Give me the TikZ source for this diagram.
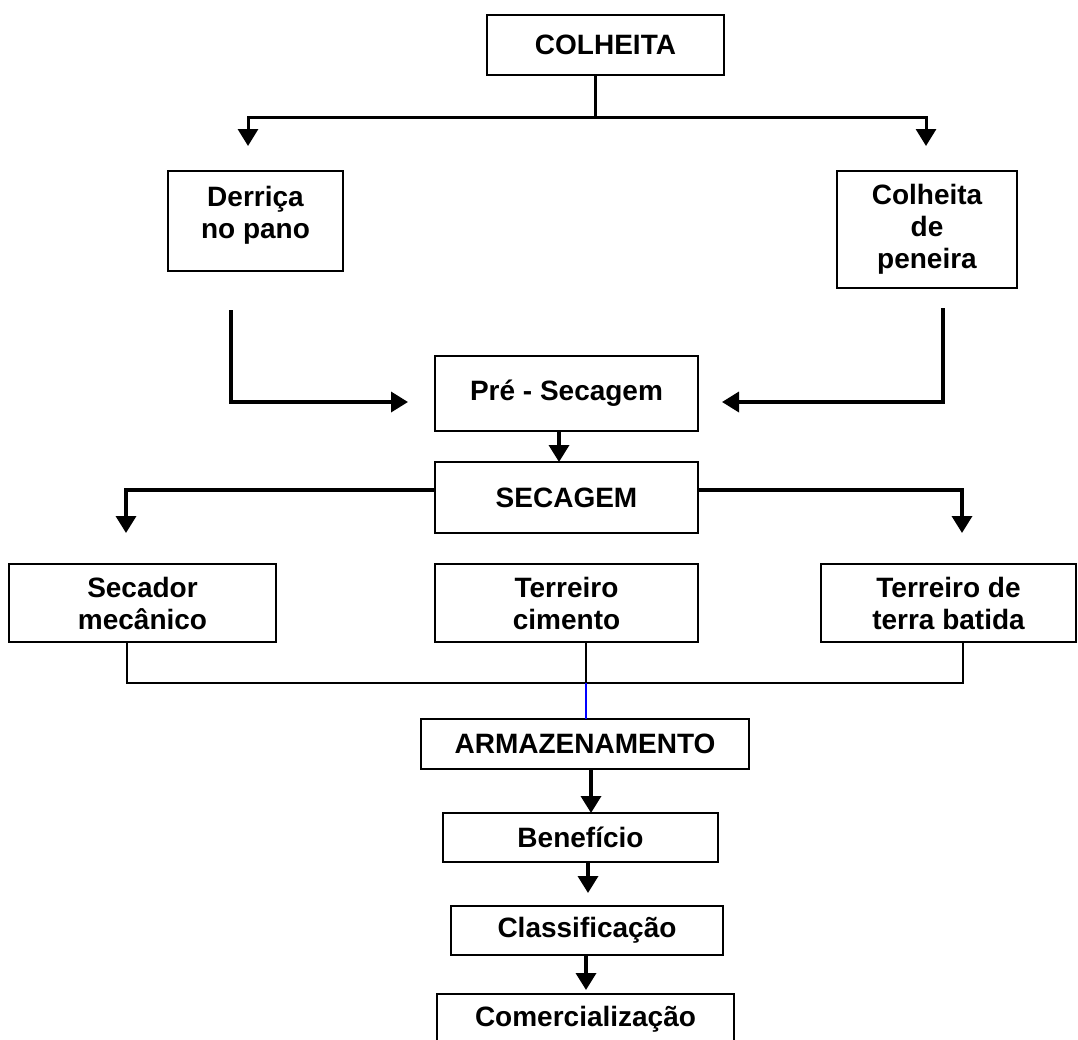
\documentclass[tikz,border=0pt]{standalone}
\definecolor{fluxoBlue}{RGB}{0,0,255}
\usepackage{tikz}
\usepackage{fontspec}
\setmainfont{Liberation Sans}
\usetikzlibrary{arrows.meta,positioning,calc}

\begin{document}
\begin{tikzpicture}[
  x=1pt, y=1pt,
  box/.style={draw, line width=2.5pt, inner sep=0pt, outer sep=0pt, align=center,
              font=\bfseries\fontsize{28}{32}\selectfont},
  conn/.style={line width=2pt},
  arr/.style={line width=3.5pt, -{Triangle[width=20pt,length=17pt]}}
]
  \useasboundingbox (0,0) rectangle (1078,-1039);

  \node[box, minimum width=237pt, minimum height=60pt] (colheita) at (605.5,-45) {COLHEITA};
  \node[box, minimum width=175pt, minimum height=100pt, below left=96pt and 144pt of colheita] (derrica) {Derriça\\no pano\\[-14pt]};
  \node[box, minimum width=180pt, minimum height=117pt, below right=96pt and 113pt of colheita] (peneira) {Colheita\\de\\peneira};

  \node[box, minimum width=263pt, minimum height=75pt] (pre) at (566.5,-393.5) {Pré - Secagem};
  \node[box, minimum width=263pt, minimum height=71pt, below=31pt of pre] (secagem) {SECAGEM};

  \node[box, minimum width=263pt, minimum height=78pt, below=31pt of secagem] (cimento) {Terreiro\\cimento};
  \node[box, minimum width=267pt, minimum height=78pt, left=159pt of cimento] (secador) {Secador\\mecânico};
  \node[box, minimum width=255pt, minimum height=78pt, right=123pt of cimento] (terra) {Terreiro de\\terra batida};

  \node[box, minimum width=328pt, minimum height=50pt, below=77pt of cimento, xshift=18.5pt] (armazen) {ARMAZENAMENTO};
  \node[box, minimum width=275pt, minimum height=49pt, below=44pt of armazen, xshift=-4.5pt] (beneficio) {Benefício};
  \node[box, minimum width=272pt, minimum height=49pt, below=44pt of beneficio, xshift=6.5pt] (classif) {Classificação};
  \node[box, minimum width=297pt, minimum height=50pt, below=39pt of classif, xshift=-1.5pt] (comerc) {Comercialização};

  \draw[conn, line width=2.5pt] ([xshift=-10pt]colheita.south) -- ++(0,-42) coordinate (fork);
  \draw[arr, line width=3pt] (fork) -| ([xshift=-7.5pt,yshift=25pt]derrica.north);
  \draw[arr, line width=3pt] (fork) -| ([xshift=-1pt,yshift=25pt]peneira.north);

  \draw[arr] ([xshift=-24.5pt,yshift=-39pt]derrica.south) |- ([xshift=-27pt,yshift=-8.5pt]pre.west);
  \draw[arr] ([xshift=16pt,yshift=-20pt]peneira.south) |- ([xshift=24pt,yshift=-8.5pt]pre.east);
  \draw[arr] ([xshift=-7.5pt]pre.south) -- ([xshift=-7.5pt]secagem.north);

  \draw[arr] ([yshift=7.5pt]secagem.west) -| ([xshift=-16.5pt,yshift=31pt]secador.north);
  \draw[arr] ([yshift=7.5pt]secagem.east) -| ([xshift=13.5pt,yshift=31pt]terra.north);

  \draw[conn] ([xshift=-15.5pt]secador.south) -- ++(0,-41) -| ([xshift=14.5pt]terra.south);
  \draw[conn] ([xshift=19.5pt]cimento.south) -- ++(0,-41) coordinate (join);
  \draw[conn, fluxoBlue] (join) -- (join |- armazen.north);

  \draw[arr] ([xshift=6pt]armazen.south) -- ([xshift=10.5pt]beneficio.north);
  \draw[arr] ([xshift=7.5pt]beneficio.south) -- ([xshift=1pt,yshift=13pt]classif.north);
  \draw[arr] ([xshift=-1pt]classif.south) -- ([xshift=0.5pt,yshift=4pt]comerc.north);
\end{tikzpicture}
\end{document}
